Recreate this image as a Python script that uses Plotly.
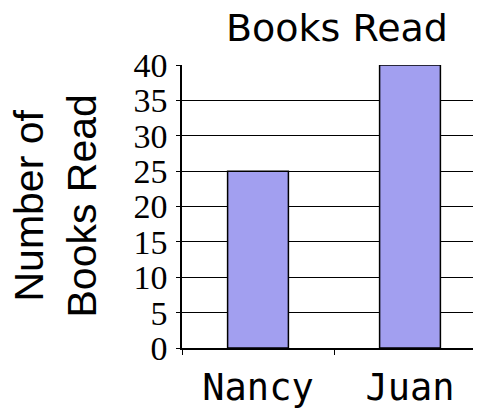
import plotly.graph_objects as go

categories = ["Nancy", "Juan"]
books_read = [25, 40]
y_ticks = [0, 5, 10, 15, 20, 25, 30, 35, 40]

# The page body adds an 8 px offset, so layout is expressed in figure pixels.
OFF = 8
W, H = 481, 410
L, T = 182 - OFF, 65 - OFF
R = OFF
B = H - (348 - OFF)
plot_w = W - L - R

fig = go.Figure()
fig.add_trace(go.Bar(
    x=categories, y=books_read, width=0.4,
    marker=dict(color="#a29ff0", line=dict(color="black", width=1.5)),
))

fig.update_layout(
    width=W, height=H,
    margin=dict(l=L, r=R, t=T, b=B, autoexpand=False),
    paper_bgcolor="white", plot_bgcolor="white",
    showlegend=False,
    title=dict(text="Books Read", x=(337 - OFF) / W, xanchor="center",
               y=1 - (28 - OFF) / H, yanchor="middle",
               font=dict(family="DejaVu Sans", size=38, color="black")),
    xaxis=dict(
        type="category", range=[-0.5, -0.5 + plot_w / 152], automargin=False,
        showline=True, linecolor="black", linewidth=1.5,
        ticks="outside", tickson="boundaries", ticklen=5, tickcolor="black", tickwidth=1,
        showgrid=False, ticklabelstandoff=6,
        tickfont=dict(family="DejaVu Sans Mono", size=37, color="black"),
    ),
    yaxis=dict(
        range=[0, 40], tickvals=y_ticks, ticktext=[str(v) for v in y_ticks], automargin=False,
        showline=True, linecolor="black", linewidth=1.5,
        ticks="outside", ticklen=4, tickcolor="black", tickwidth=1,
        showgrid=True, gridcolor="black", gridwidth=1.3,
        zeroline=False, ticklabelstandoff=2,
        tickfont=dict(family="Liberation Serif, Times New Roman, serif", size=34, color="black"),
    ),
    annotations=[dict(
        text="Number of<br>Books Read", textangle=-90,
        xref="paper", yref="paper", x=(55 - OFF - L) / plot_w, y=0.5,
        xanchor="center", yanchor="middle", showarrow=False,
        font=dict(family="Liberation Sans", size=41, color="black"),
    )],
)

fig.write_html("out.html")
